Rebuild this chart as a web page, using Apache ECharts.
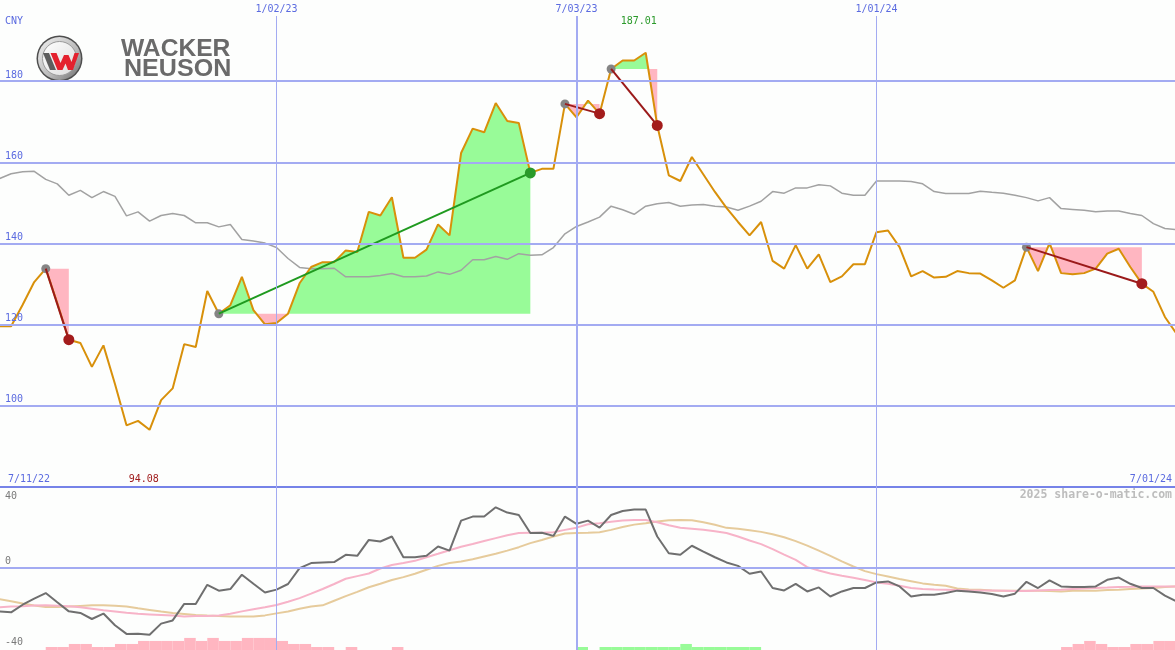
<!DOCTYPE html>
<html><head><meta charset="utf-8">
<script src="https://cdn.jsdelivr.net/npm/echarts@6/dist/echarts.min.js"></script>
<style>html,body{margin:0;padding:0;background:#fdfefd}#c{width:1175px;height:650px}</style>
</head><body><div id="c"></div>
<script>
// Weekly data, index 0 = week of 7/18/22, index 24 = 1/02/23
const PRICE = [119.6,119.6,124.9,130.5,133.8,125.3,116.3,115.5,109.6,114.9,
 105.4,95.2,96.3,94.1,101.4,104.3,115.2,114.5,128.3,122.7,
 124.8,131.8,123.6,120.1,
 120.4,122.7,130.2,134.2,135.4,135.4,138.3,137.9,147.8,146.9,
 151.4,136.5,136.5,138.5,144.7,142.0,162.3,168.3,167.4,174.6,
 170.2,169.7,157.4,158.4,158.4,174.4,171.1,175.2,172.0,183.0,
 185.1,185.1,187.0,169.1,156.8,155.4,161.3,157.0,152.7,148.8,
 145.3,142.0,145.3,135.7,133.8,139.6,133.8,137.3,130.5,131.9,
 134.9,134.9,142.8,143.2,139.1,131.9,133.2,131.6,131.8,133.2,
 132.7,132.6,130.9,129.1,130.9,139.1,133.2,140.1,132.7,132.4,
 132.7,133.8,137.5,138.7,134.2,130.1,128.1,121.9,117.8];
const BENCH = [156.0,157.2,157.7,157.8,155.8,154.7,151.9,153.1,151.3,152.8,
 151.6,146.8,147.8,145.5,146.9,147.4,146.9,145.1,145.1,144.1,
 144.7,141.0,140.6,140.1,
 139.0,136.3,134.1,133.8,133.8,133.9,131.8,131.8,131.8,132.1,
 132.6,131.8,131.8,132.0,133.0,132.4,133.4,136.0,136.0,136.8,
 136.1,137.5,137.1,137.2,139.0,142.4,144.2,145.3,146.5,149.2,
 148.3,147.2,149.2,149.8,150.1,149.2,149.5,149.6,149.2,149.0,
 148.2,149.2,150.4,152.8,152.4,153.7,153.7,154.5,154.2,152.4,
 151.9,151.9,155.4,155.4,155.4,155.3,154.7,152.8,152.3,152.3,
 152.3,152.9,152.6,152.4,151.9,151.3,150.5,151.3,148.6,148.4,
 148.2,147.8,148.0,148.0,147.4,146.9,144.9,143.7,143.4];
const OSC = [-21.8,-22.3,-18.5,-15.5,-12.7,-17.3,-21.8,-22.6,-25.6,-22.9,
 -28.7,-33.0,-32.9,-33.4,-27.9,-26.3,-18.1,-18.1,-8.6,-11.5,
 -10.7,-3.6,-8.1,-12.4,
 -11.0,-8.2,-0.3,2.2,2.5,2.7,6.3,5.8,13.7,12.9,
 15.4,5.1,5.1,5.8,10.4,8.4,23.3,25.3,25.3,29.9,
 27.3,26.1,17.1,17.3,15.7,25.3,21.7,23.3,19.8,26.1,
 28.1,28.8,28.8,15.4,7.1,6.3,10.8,7.9,5.1,2.5,
 0.8,-3.1,-2.0,-10.2,-11.4,-8.1,-11.9,-9.9,-14.4,-11.9,
 -10.2,-10.2,-7.4,-6.9,-9.4,-14.4,-13.5,-13.5,-12.7,-11.5,
 -11.9,-12.4,-13.2,-14.4,-13.0,-7.1,-10.2,-6.4,-9.4,-9.7,
 -9.7,-9.4,-6.1,-5.0,-8.1,-10.2,-10.2,-14.0,-16.8];
const MA_FAST = [-19.8,-19.4,-19.2,-18.9,-18.8,-19.0,-19.2,-19.8,-20.5,-21.3,
 -21.9,-22.5,-23.0,-23.3,-23.6,-23.9,-24.3,-24.1,-24.1,-23.9,
 -23.0,-21.8,-20.8,-19.8,
 -18.6,-17.0,-15.2,-13.0,-10.7,-8.2,-5.6,-4.3,-3.0,-0.5,
 1.2,2.2,3.3,5.1,6.8,8.6,10.3,11.7,13.2,14.6,
 16.0,17.1,17.3,17.3,17.5,18.7,19.8,21.5,22.0,22.7,
 23.3,23.6,23.6,22.5,21.0,19.8,19.3,18.7,18.0,17.1,
 15.4,13.4,11.6,9.1,6.4,3.8,0.2,-1.5,-3.0,-4.1,
 -5.1,-6.2,-7.4,-8.1,-9.1,-10.2,-10.7,-10.9,-11.0,-11.2,
 -11.4,-11.4,-11.4,-11.5,-11.7,-11.7,-11.4,-11.2,-11.0,-10.7,
 -10.5,-10.2,-10.0,-9.7,-9.6,-9.4,-9.4,-9.4,-9.4];
const MA_SLOW = [-15.7,-16.8,-17.9,-18.9,-19.6,-19.6,-19.4,-19.1,-18.8,-18.8,
 -19.0,-19.4,-20.3,-21.1,-21.9,-22.6,-23.1,-23.6,-23.9,-24.1,
 -24.3,-24.3,-24.3,-23.8,
 -22.8,-21.9,-20.5,-19.4,-18.8,-16.5,-14.2,-12.1,-9.8,-8.1,
 -6.2,-4.8,-3.1,-1.1,0.8,2.2,3.0,4.1,5.5,6.8,
 8.4,10.1,12.1,13.7,15.4,16.9,17.2,17.3,17.5,18.7,
 20.1,21.3,22.0,22.8,23.5,23.6,23.5,22.5,21.2,19.7,
 19.2,18.5,17.7,16.5,15.0,13.1,10.9,8.4,5.8,3.0,
 0.5,-1.8,-3.3,-4.5,-5.7,-6.8,-7.9,-8.6,-9.1,-10.4,
 -10.9,-11.0,-11.4,-11.5,-11.5,-11.5,-11.5,-11.7,-11.9,-11.5,
 -11.5,-11.5,-11.2,-11.0,-10.7,-10.4,-10.2,-9.7,-9.4];
const HIST = [0,0,0,0,-1.5,-1.5,-3,-3,-1.5,-1.5,
 -3,-3,-4.5,-4.5,-4.5,-4.5,-6,-4.5,-6,-4.5,
 -4.5,-6,-6,-6,
 -4.5,-3,-3,-1.5,-1.5,0,-1.5,0,0,0,
 -1.5,0,0,0,0,0,0,0,0,0,
 0,0,0,0,0,0,1.5,0,1.5,1.5,
 1.5,1.5,1.5,1.5,1.5,3,1.5,1.5,1.5,1.5,
 1.5,1.5,0,0,0,0,0,0,0,0,
 0,0,0,0,0,0,0,0,0,0,
 0,0,0,0,0,0,0,0,-1.5,-3,
 -4.5,-3,-1.5,-1.5,-3,-3,-4.5,-4.5,-4.5];
// trades: [entry index, exit index]
const TRADES = [[4,6],[19,46],[49,52],[53,57],[89,99]];
const PRICE_LEVELS = [100,120,140,160,180];
const OSC_LEVELS = [40,0,-40];
const DATE_TICK_IDX = [24,50,76];
const DATE_TICK_LABELS = ['1/02/23','7/03/23','1/01/24'];
const EDGE_DATES = ['7/11/22','7/01/24'];
const EXTREME_LABELS = [187.01, 94.08];
const CURRENCY = 'CNY';

const X_MIN = 24 - 276.5/11.538, X_MAX = 24 + (1175-276.5)/11.538;
const BLUE = '#5b6be0', GRID = '#a3abf2', MONO = 'DejaVu Sans Mono', CLEAR = 'rgba(0,0,0,0)';
const pair = arr => arr.map((v, i) => [i, v]);

function tradeShape(e, x) {
  const L = PRICE[e], pts = [];
  for (let i = e; i <= x; i++) {
    pts.push([i, PRICE[i]]);
    if (i < x) {
      const a = PRICE[i] - L, b = PRICE[i+1] - L;
      if (a * b < 0) pts.push([i + a/(a-b), L]);
    }
  }
  return {L, pts};
}

const maxI = PRICE.indexOf(Math.max(...PRICE));
const minI = PRICE.indexOf(Math.min(...PRICE));

const chart = echarts.init(document.getElementById('c'), null, {renderer:'canvas'});
const vLines = (yTop, yBot, withLabel) => DATE_TICK_IDX.map((xi, k) => [
  {coord:[xi, yTop], name: DATE_TICK_LABELS[k],
   lineStyle:{color: GRID, width: k === 1 ? 2 : 1, type:'solid'},
   label:{show: withLabel, position:'start', distance:2, formatter:'{b}', color: BLUE, fontFamily: MONO, fontSize: 10}},
  {coord:[xi, yBot]}
]);
const extremeLabel = (color) => ({show:true, position:'inside', formatter: p => p.value.toFixed(2), color, fontFamily:MONO, fontSize:10});

chart.setOption({
  animation:false,
  backgroundColor:'#fdfefd',
  grid:[{left:0, top:0, width:1175, height:487}, {left:0, top:487, width:1175, height:163}],
  xAxis:[
    {gridIndex:0, type:'value', min:X_MIN, max:X_MAX, axisLine:{show:true, onZero:false, lineStyle:{color:'#7683e8', width:2}}, axisTick:{show:false}, axisLabel:{show:false}, splitLine:{show:false}},
    {gridIndex:1, type:'value', min:X_MIN, max:X_MAX, show:false}
  ],
  yAxis:[
    {gridIndex:0, type:'value', min:80, max:200, show:false},
    {gridIndex:1, type:'value', min:-41, max:40, show:false},
    {gridIndex:1, type:'value', min:0, max:81, show:false}
  ],
  series:[
    { type:'custom', xAxisIndex:0, yAxisIndex:0, z:1, clip:true,
      data: TRADES.map(t => [t[0], PRICE[t[0]]]),
      renderItem(params, api) {
        const [e, x] = TRADES[params.dataIndex];
        const {L, pts} = tradeShape(e, x);
        const up = pts.map(p => api.coord([p[0], Math.max(p[1], L)]));
        up.push(api.coord([x, L]), api.coord([e, L]));
        const dn = pts.map(p => api.coord([p[0], Math.min(p[1], L)]));
        dn.push(api.coord([x, L]), api.coord([e, L]));
        return {type:'group', children:[
          {type:'polygon', shape:{points:up}, style:{fill:'#98fb98'}},
          {type:'polygon', shape:{points:dn}, style:{fill:'#ffb6c1'}}
        ]};
      }
    },
    { type:'line', name:'bench', xAxisIndex:0, yAxisIndex:0, z:2, data: pair(BENCH), showSymbol:false,
      lineStyle:{color:'#a2a2a2', width:1.5},
      markLine:{ silent:true, symbol:'none', animation:false,
        data: PRICE_LEVELS.map(v => ({yAxis:v, lineStyle:{color:GRID, width:2, type:'solid'},
          label:{show:true, position:'insideStartTop', distance:[5,1], formatter:String(v), color:BLUE, fontFamily:MONO, fontSize:10}}))
          .concat(vLines(196.06, 80, true))
      }
    },
    { type:'line', name:'price', xAxisIndex:0, yAxisIndex:0, z:3, data: pair(PRICE), showSymbol:false,
      lineStyle:{color:'#d8900a', width:2},
      markPoint:{ symbol:'circle', symbolSize:1, itemStyle:{color:CLEAR}, silent:true,
        data:[
          {coord:[maxI - 0.6, 194.8], value:EXTREME_LABELS[0], itemStyle:{color:CLEAR}, label:extremeLabel('#2a9a2a')},
          {coord:[minI - 0.5, 81.97], value:EXTREME_LABELS[1], itemStyle:{color:CLEAR}, label:extremeLabel('#a01c1c')}
        ]}
    },
    { type:'custom', xAxisIndex:0, yAxisIndex:0, z:4, clip:true,
      data: TRADES.map(t => [t[1], PRICE[t[1]]]),
      renderItem(params, api) {
        const [e, x] = TRADES[params.dataIndex];
        const a = api.coord([e, PRICE[e]]), b = api.coord([x, PRICE[x]]);
        const win = PRICE[x] > PRICE[e];
        return {type:'group', children:[
          {type:'circle', shape:{cx:a[0], cy:a[1], r:4.5}, style:{fill:'#858585'}},
          {type:'line', shape:{x1:a[0], y1:a[1], x2:b[0], y2:b[1]}, style:{stroke: win ? '#1f9a1f' : '#9b1a1a', lineWidth:2}},
          {type:'circle', shape:{cx:b[0], cy:b[1], r:5.5}, style:{fill: win ? '#2a9a2a' : '#a31c1c'}}
        ]};
      }
    },
    // lower panel
    { type:'custom', xAxisIndex:1, yAxisIndex:2, z:1, clip:true,
      data: pair(HIST),
      renderItem(params, api) {
        const i = api.value(0), v = api.value(1);
        if (!v) return null;
        const p0 = api.coord([i, 0]), p1 = api.coord([i + 1, Math.abs(v)]);
        return {type:'rect', shape:{x:p0[0], y:p1[1], width:p1[0]-p0[0], height:p0[1]-p1[1]},
          style:{fill: v > 0 ? '#98fb98' : '#ffb6c1'}};
      }
    },
    { type:'line', xAxisIndex:1, yAxisIndex:1, z:2, data: pair(MA_SLOW), showSymbol:false,
      lineStyle:{color:'#e6cb9c', width:2},
      markLine:{ silent:true, symbol:'none', animation:false,
        data: OSC_LEVELS.map(v => ({yAxis:v, lineStyle:{color: v === 0 ? GRID : CLEAR, width:2, type:'solid'},
          label:{show:true, position: v > 0 ? 'insideStartBottom' : 'insideStartTop', distance: v > 0 ? [5,4] : [5,1], formatter:String(v), color:'#7a7a7a', fontFamily:MONO, fontSize:10}}))
          .concat(vLines(40, -41, false))
      }
    },
    { type:'line', xAxisIndex:1, yAxisIndex:1, z:3, data: pair(MA_FAST), showSymbol:false,
      lineStyle:{color:'#f7b3c8', width:2} },
    { type:'line', xAxisIndex:1, yAxisIndex:1, z:4, data: pair(OSC), showSymbol:false,
      lineStyle:{color:'#6f6f6f', width:2} }
  ],
  graphic:[
    {type:'text', left:5, top:16, z:100, style:{text:CURRENCY, fill:BLUE, font:'10px "DejaVu Sans Mono"'}},
    {type:'text', left:8, top:474, z:100, style:{text:EDGE_DATES[0], fill:BLUE, font:'10px "DejaVu Sans Mono"'}},
    {type:'text', right:3, top:474, z:100, style:{text:EDGE_DATES[1], fill:BLUE, font:'10px "DejaVu Sans Mono"'}},
    {type:'text', right:3, top:489, z:100, style:{text:'2025 share-o-matic.com', fill:'#bdbdbd', font:'bold 11.5px "DejaVu Sans Mono"'}},
    {type:'group', z:100, children:[
      {type:'rect', shape:{x:35, y:30, width:199, height:58}, style:{fill:'#fdfefd'}},
      {type:'circle', shape:{cx:59.5, cy:58.5, r:23}, style:{fill:'#4e4e4e'}},
      {type:'circle', shape:{cx:59.5, cy:58.5, r:21.5}, style:{fill:new echarts.graphic.LinearGradient(0,0,1,1,[{offset:0,color:'#f2f2f2'},{offset:0.6,color:'#b8b8b8'},{offset:1,color:'#6a6a6a'}])}},
      {type:'circle', shape:{cx:59.5, cy:58.5, r:17}, style:{fill:new echarts.graphic.LinearGradient(0,0,1,1,[{offset:0,color:'#ffffff'},{offset:1,color:'#dcdcdc'}]), stroke:'#9a9a9a', lineWidth:1}},
      {type:'polygon', shape:{points:[[43,53],[49,53],[56,70],[50,70]]}, style:{fill:'#5e5e5e'}},
      {type:'polygon', shape:{points:[[50.5,53],[56.5,53],[60.5,63],[64,55],[68.5,55],[71.5,62],[74.5,53],[79,53],[73,70],[68,70],[65.5,63.5],[62.5,70],[57.5,70]]}, style:{fill:'#e4212e'}},
      {type:'text', x:121, y:50, scaleX:1.07, style:{text:'WACKER', fill:'#6a6a6a', font:'bold 23px "Liberation Sans"', verticalAlign:'middle'}},
      {type:'text', x:124, y:69.5, scaleX:1.09, style:{text:'NEUSON', fill:'#6a6a6a', font:'bold 23px "Liberation Sans"', verticalAlign:'middle'}}
    ]}
  ]
});
</script></body></html>
